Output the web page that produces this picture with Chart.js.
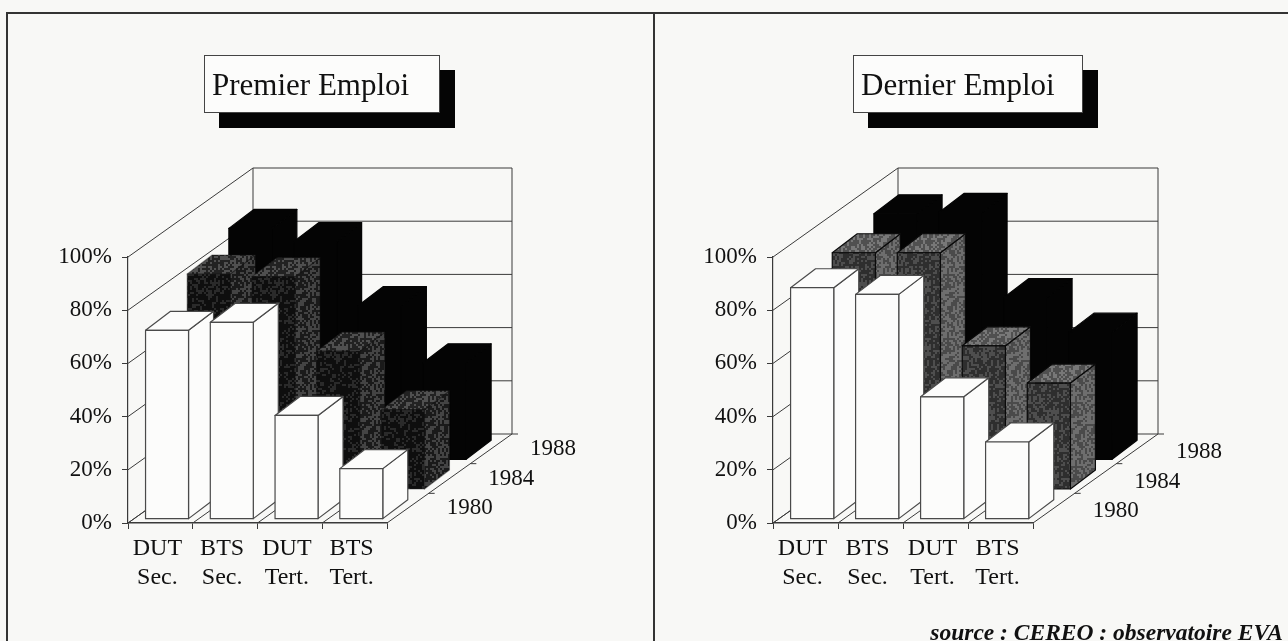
<!DOCTYPE html>
<html lang="fr">
<head>
<meta charset="utf-8">
<title>Premier et dernier emploi</title>
<script src="https://cdn.jsdelivr.net/npm/chart.js@4"></script>
<style>
    html, body { margin: 0; padding: 0; background: #f8f8f6; }
    body { position: relative; width: 1288px; height: 641px; overflow: hidden; font-family: "Liberation Serif", serif; color: #111; }
    .frame { position: absolute; background: #333; }
    .panel { position: absolute; top: 14px; }
    .title-box {
        position: absolute; top: 55px; height: 58px; box-sizing: border-box;
        background: #fcfcfb; border: 1px solid #444; box-shadow: 15px 15px 0 #050505;
        font-size: 31px; line-height: 58px; padding-left: 7px; white-space: nowrap;
    }
    .source { position: absolute; right: 5px; top: 619px; font-size: 23.5px; font-style: italic; font-weight: bold; white-space: nowrap; }
</style>
</head>
<body>
<div class="frame" style="left:7px;top:12px;width:1281px;height:2px"></div>
<div class="frame" style="left:6px;top:12px;width:2px;height:629px"></div>
<div class="frame" style="left:653px;top:12px;width:2px;height:629px"></div>

<div class="panel" style="left:8px;width:645px;height:627px"><canvas id="premierChart" width="645" height="627"></canvas></div>
<div class="panel" style="left:655px;width:633px;height:627px"><canvas id="dernierChart" width="633" height="627"></canvas></div>

<div class="title-box" style="left:204px;width:236px">Premier Emploi</div>
<div class="title-box" style="left:853px;width:230px">Dernier Emploi</div>
<div class="source">source : CEREO : observatoire EVA</div>

<script>
// Data
const categories = [['DUT', 'Sec.'], ['BTS', 'Sec.'], ['DUT', 'Tert.'], ['BTS', 'Tert.']];
const years = ['1980', '1984', '1988'];
const yTickLabels = ['0%', '20%', '40%', '60%', '80%', '100%'];

const premier1980 = [71, 74, 39, 19];
const premier1984 = [81, 80, 52, 30];
const premier1988 = [87, 82, 58, 36.5];

const dernier1980 = [87, 84.5, 46, 29];
const dernier1984 = [89, 89, 54, 40];
const dernier1988 = [92.5, 93, 61, 48];

// Oblique projection of the depth axis
const DEPTH_X = 125;
const DEPTH_Y = 89;
const LINE = '#3a3a3a';
const SERIF = '"Liberation Serif", serif';

// Mottled fill, stands for the halftone of the scan
function halftone(dark, light, density) {
    const size = 64;
    const c = document.createElement('canvas');
    c.width = c.height = size;
    const g = c.getContext('2d');
    g.fillStyle = dark;
    g.fillRect(0, 0, size, size);
    g.fillStyle = light;
    for (let y = 0; y < size; y += 2) {
        for (let x = 0; x < size; x += 2) {
            const h = Math.sin(x * 12.9898 + y * 78.233) * 43758.5453;
            if (h - Math.floor(h) < density) g.fillRect(x, y, 2, 2);
        }
    }
    return g.createPattern(c, 'repeat');
}

// Draw one bar as a box: side, top, then front
function drawBox(ctx, bar, shiftX, shiftY, depthX, depthY, faces) {
    const left = bar.x - bar.width / 2 + shiftX;
    const right = bar.x + bar.width / 2 + shiftX;
    const top = bar.y - shiftY;
    const base = bar.base - shiftY;

    ctx.strokeStyle = faces.line;
    ctx.lineWidth = 1.2;
    ctx.lineJoin = 'round';

    ctx.fillStyle = faces.side;
    ctx.beginPath();
    ctx.moveTo(right, base);
    ctx.lineTo(right + depthX, base - depthY);
    ctx.lineTo(right + depthX, top - depthY);
    ctx.lineTo(right, top);
    ctx.closePath();
    ctx.fill();
    ctx.stroke();

    ctx.fillStyle = faces.top;
    ctx.beginPath();
    ctx.moveTo(left, top);
    ctx.lineTo(left + depthX, top - depthY);
    ctx.lineTo(right + depthX, top - depthY);
    ctx.lineTo(right, top);
    ctx.closePath();
    ctx.fill();
    ctx.stroke();

    ctx.fillStyle = faces.front;
    ctx.fillRect(left, top, bar.width, base - top);
    ctx.strokeRect(left, top, bar.width, base - top);
}

// Walls, floor and depth labels, then the boxes in place of flat bars
const box3d = {
    id: 'box3d',
    beforeDatasetsDraw(chart) {
        const ctx = chart.ctx;
        const x = chart.scales.x;
        const y = chart.scales.y;
        const left = x.left, right = x.right, zero = y.getPixelForValue(0);

        ctx.save();
        ctx.strokeStyle = LINE;
        ctx.lineWidth = 1;
        ctx.beginPath();

        // left and back walls
        y.ticks.forEach(function(tick) {
            const py = y.getPixelForValue(tick.value);
            ctx.moveTo(left, py);
            ctx.lineTo(left + DEPTH_X, py - DEPTH_Y);
            ctx.lineTo(right + DEPTH_X, py - DEPTH_Y);
        });
        const top = y.getPixelForValue(y.max);
        ctx.moveTo(left + DEPTH_X, top - DEPTH_Y);
        ctx.lineTo(left + DEPTH_X, zero - DEPTH_Y);
        ctx.moveTo(right + DEPTH_X, top - DEPTH_Y);
        ctx.lineTo(right + DEPTH_X, zero - DEPTH_Y);

        // floor, along the depth
        const step = (right - left) / categories.length;
        for (let i = 0; i <= categories.length; i++) {
            ctx.moveTo(left + i * step, zero);
            ctx.lineTo(left + i * step + DEPTH_X, zero - DEPTH_Y);
        }

        // depth ticks on the right floor edge
        years.forEach(function(year, i) {
            const px = right + DEPTH_X * (i + 1) / years.length;
            const py = zero - DEPTH_Y * (i + 1) / years.length;
            ctx.moveTo(px, py);
            ctx.lineTo(px + 6, py);
        });
        ctx.stroke();

        // depth labels
        const opts = chart.options.plugins.box3d;
        ctx.fillStyle = '#111';
        ctx.font = '23px ' + SERIF;
        ctx.textBaseline = 'middle';
        ctx.textAlign = 'left';
        years.forEach(function(year, i) {
            const px = right + DEPTH_X * (i + 1) / years.length;
            const py = zero - DEPTH_Y * (i + 1) / years.length;
            ctx.fillText(year, px + 18, py + opts.labelDy);
        });
        ctx.restore();
    },
    beforeDatasetDraw(chart, args) {
        const ctx = chart.ctx;
        const rowX = DEPTH_X / years.length;
        const rowY = DEPTH_Y / years.length;
        const faces = chart.options.plugins.box3d.faces[args.index];

        ctx.save();
        args.meta.data.forEach(function(bar) {
            drawBox(ctx, bar, (args.index + 0.16) * rowX, (args.index + 0.13) * rowY, rowX * 0.6, rowY * 0.64, faces);
        });
        ctx.restore();
        return false;
    }
};

function createChart(id, series, faces, yWidth, rightPad, labelDy) {
    new Chart(document.getElementById(id), {
        type: 'bar',
        data: {
            labels: categories,
            datasets: years.map(function(year, i) {
                return { label: year, data: series[i] };
            })
        },
        options: {
            responsive: false,
            animation: false,
            grouped: false,
            categoryPercentage: 1,
            barPercentage: 0.664,
            layout: { padding: { top: 243, right: rightPad, left: 0, bottom: 0 } },
            plugins: {
                legend: { display: false },
                tooltip: { enabled: false },
                box3d: { faces: faces, labelDy: labelDy }
            },
            scales: {
                x: {
                    afterFit: function(scale) { scale.height = 118; },
                    grid: { drawOnChartArea: false, color: LINE, tickLength: 6, offset: true },
                    border: { color: LINE, width: 1.5 },
                    ticks: {
                        color: '#111', maxRotation: 0, padding: 5, labelOffset: -3,
                        font: { family: SERIF, size: 24, lineHeight: 1.22 }
                    }
                },
                y: {
                    min: 0,
                    max: 100,
                    afterFit: function(scale) { scale.width = yWidth; },
                    grid: { drawOnChartArea: false, color: LINE, tickLength: 6 },
                    border: { color: LINE, width: 1.2 },
                    ticks: {
                        stepSize: 20, color: '#111', padding: 10,
                        font: { family: SERIF, size: 23 },
                        callback: function(value) { return yTickLabels[value / 20]; }
                    }
                }
            }
        },
        plugins: [box3d]
    });
}

document.addEventListener('DOMContentLoaded', function() {
    const white = { front: '#fcfcfb', side: '#fcfcfb', top: '#fcfcfb', line: '#4a4a4a' };
    const black = { front: '#040404', side: '#040404', top: '#040404', line: '#040404' };

    const premierFaces = [
        white,
        {
            front: halftone('#0e0e0e', '#2a2a2a', 0.35),
            side: halftone('#1a1a1a', '#444444', 0.45),
            top: halftone('#222222', '#505050', 0.5),
            line: 'rgba(20,20,20,0.4)'
        },
        black
    ];
    const dernierFaces = [
        white,
        {
            front: halftone('#2e2e2e', '#4e4e4e', 0.45),
            side: halftone('#4a4a4a', '#6e6e6e', 0.5),
            top: halftone('#505050', '#787878', 0.5),
            line: '#0a0a0a'
        },
        black
    ];

    createChart('premierChart', [premier1980, premier1984, premier1988], premierFaces, 120, 266, 15);
    createChart('dernierChart', [dernier1980, dernier1984, dernier1988], dernierFaces, 118, 255, 18);
});
</script>
</body>
</html>
